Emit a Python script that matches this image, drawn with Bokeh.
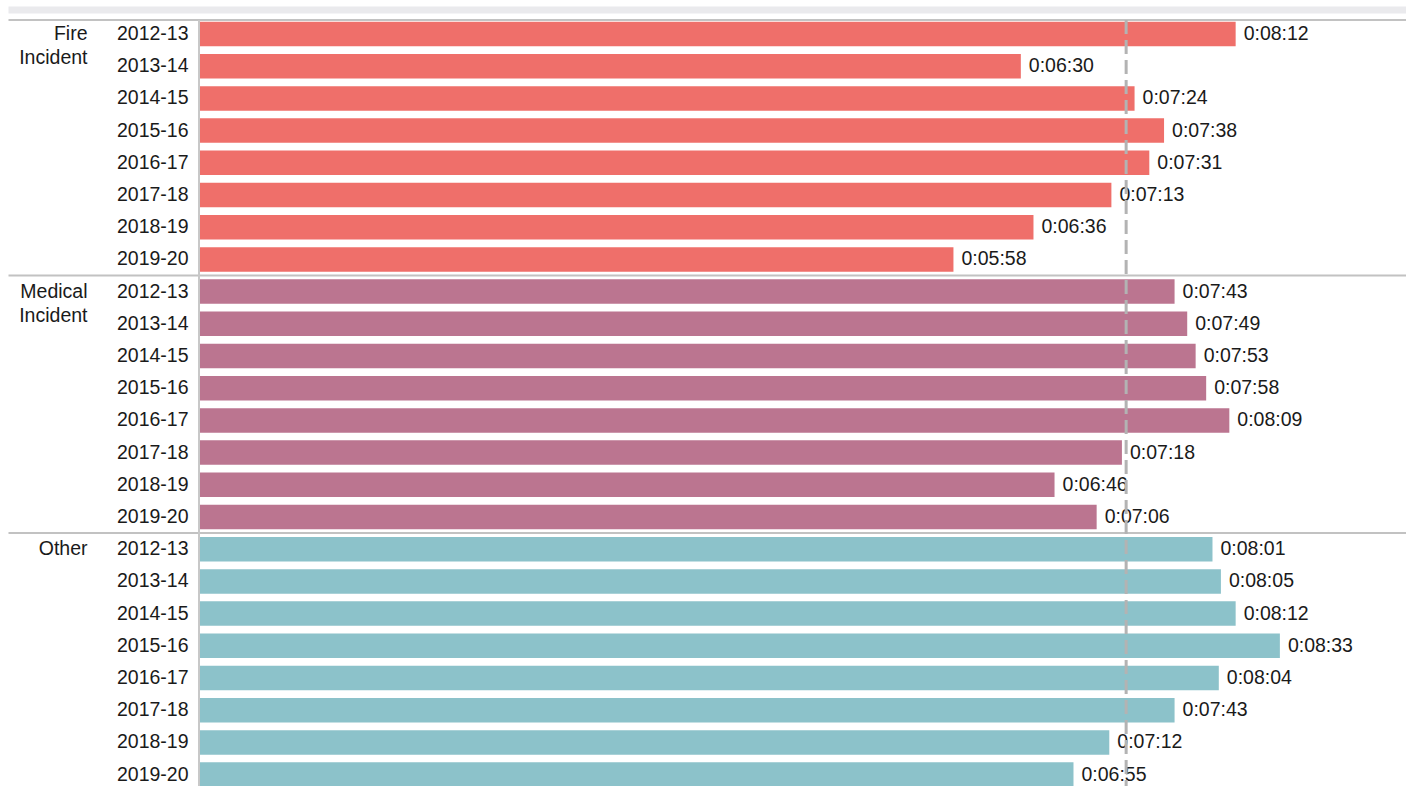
from bokeh.plotting import figure
from bokeh.models import ColumnDataSource, Range1d
from bokeh.embed import file_html
from bokeh.resources import INLINE
from bokeh.core.properties import value

# --- data: average response times in seconds ---
groups = ["Fire Incident", "Medical Incident", "Other"]
years = ["2012-13", "2013-14", "2014-15", "2015-16",
         "2016-17", "2017-18", "2018-19", "2019-20"]
fire_secs = [492, 390, 444, 458, 451, 433, 396, 358]
medical_secs = [463, 469, 473, 478, 489, 438, 406, 426]
other_secs = [481, 485, 492, 513, 484, 463, 432, 415]
reference_secs = 440
group_colors = ["#EF6F6A", "#BB7590", "#8CC2CA"]

# --- layout constants (pixels) ---
W, H = 1406, 786
ZERO_PX = 199          # where the bars start
PX_PER_SEC = 2.106
FIRST_ROW_PX = 33.5
ROW_PX = 32.2
BAR_PX = 24.5
FONT = value("Liberation Sans")
FONT_SIZE = "19.5px"
TEXT_COLOR = "#1A1A1A"
TEXT_DY = -1


def px2x(px):
    return (px - ZERO_PX) / PX_PER_SEC


def py2y(py):
    return (py - FIRST_ROW_PX) / ROW_PX


def hms(s):
    return f"{s // 3600}:{(s % 3600) // 60:02d}:{s % 60:02d}"


series = [fire_secs, medical_secs, other_secs]
rows, secs, colors, year_lbls, val_lbls = [], [], [], [], []
for gi, vals in enumerate(series):
    for yi, v in enumerate(vals):
        rows.append(gi * len(years) + yi)
        secs.append(v)
        colors.append(group_colors[gi])
        year_lbls.append(years[yi])
        val_lbls.append(hms(v))

src = ColumnDataSource(dict(row=rows, secs=secs, color=colors,
                            year=year_lbls, label=val_lbls))

p = figure(width=W, height=H,
           x_range=Range1d(px2x(0), px2x(W)),
           y_range=Range1d(py2y(H), py2y(0)),
           x_axis_location=None, y_axis_location=None,
           min_border=0, toolbar_location=None, output_backend="svg",
           outline_line_color=None)
p.grid.visible = False
p.background_fill_color = "white"
p.border_fill_color = "white"

top_y = py2y(19.5)
bottom_y = py2y(H + 5)

# light header strip
p.quad(left=px2x(8), right=px2x(W + 5), top=py2y(6), bottom=py2y(13),
       fill_color="#EAEAED", line_color=None)

# bars
p.hbar(y="row", left=0, right="secs", height=BAR_PX / ROW_PX,
       fill_color="color", line_color=None, source=src)

# header rule and group separators
n = len(years)
sep_y = [top_y] + [g * n - 0.5 for g in range(1, len(groups))]
p.segment(x0=[px2x(8)] * len(sep_y), x1=[px2x(W + 5)] * len(sep_y),
          y0=sep_y, y1=sep_y, line_color="#C2C2C2", line_width=2)

# zero line
p.segment(x0=[px2x(ZERO_PX - 0.5)], x1=[px2x(ZERO_PX - 0.5)],
          y0=[top_y], y1=[bottom_y], line_color="#C8C8C8", line_width=2)

# value labels
p.text(x="secs", y="row", text="label", source=src, x_offset=8,
       y_offset=TEXT_DY, text_align="left", text_baseline="middle",
       text_font=FONT, text_font_size=FONT_SIZE, text_color=TEXT_COLOR)

# reference line
p.segment(x0=[reference_secs], x1=[reference_secs], y0=[top_y],
          y1=[bottom_y], line_color="#B3B3B3", line_width=3,
          line_dash="14 6")

# year labels
p.text(x=0, y="row", text="year", source=src, x_offset=-11,
       y_offset=TEXT_DY, text_align="right", text_baseline="middle",
       text_font=FONT, text_font_size=FONT_SIZE, text_color=TEXT_COLOR)

# group labels, one word per line
g_rows, g_text, g_off = [], [], []
for gi, name in enumerate(groups):
    for li, word in enumerate(name.split(" ")):
        g_rows.append(gi * n)
        g_text.append(word)
        g_off.append(TEXT_DY + li * 24)
p.text(x=[0] * len(g_rows), y=g_rows, text=g_text, y_offset=g_off,
       x_offset=-112, text_align="right", text_baseline="middle",
       text_font=FONT, text_font_size=FONT_SIZE, text_color=TEXT_COLOR)

open("out.html", "w").write(file_html(p, INLINE))
